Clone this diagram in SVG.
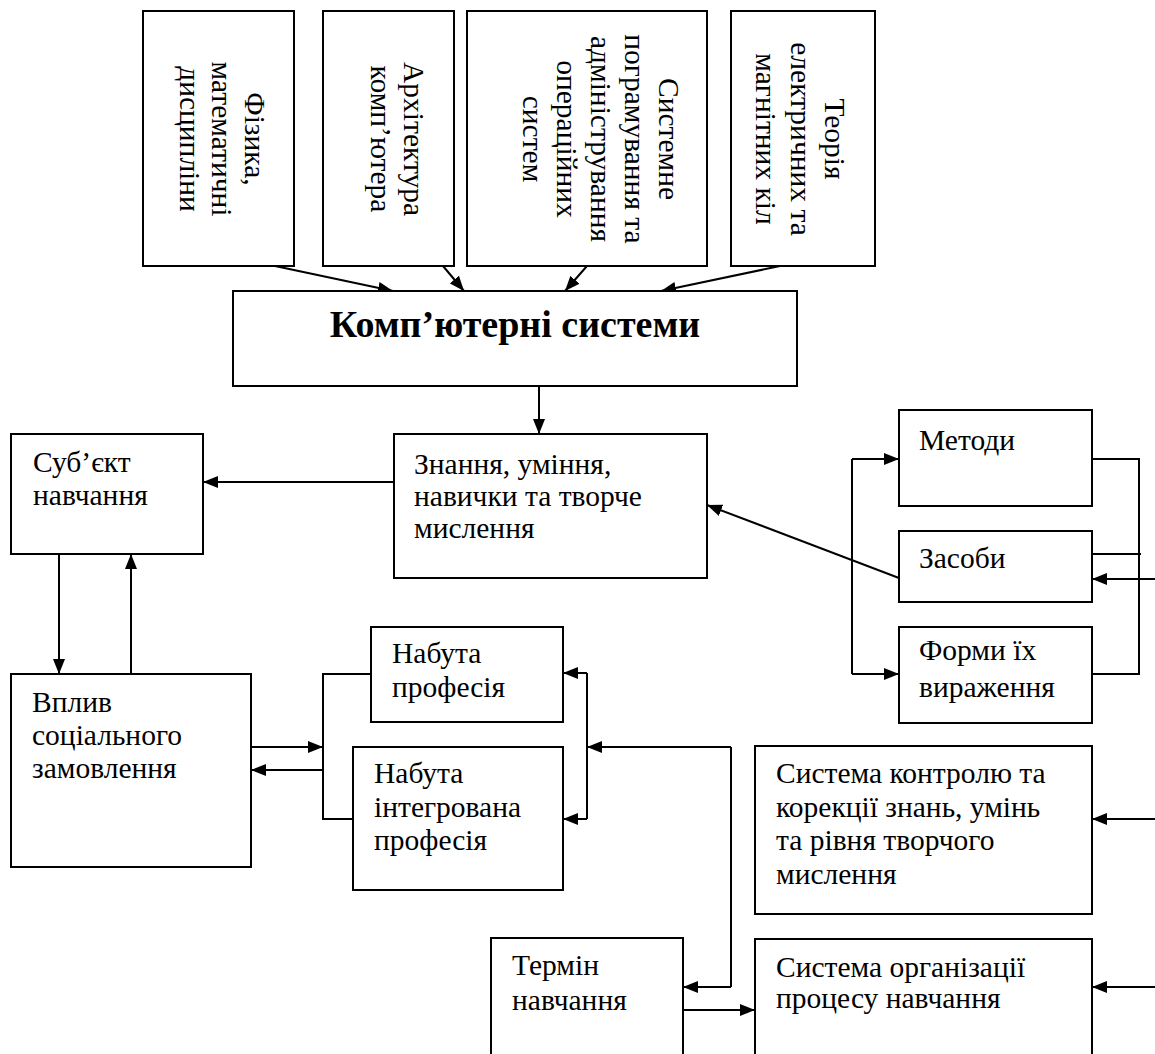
<svg xmlns="http://www.w3.org/2000/svg" width="1155" height="1054" viewBox="0 0 1155 1054">
<style>
.box{fill:#fff;stroke:#000;stroke-width:2}
.t{font-family:"Liberation Serif","Times New Roman",serif;font-size:29.5px;fill:#000}
.v{text-anchor:middle}
.b{font-weight:bold;font-size:38px;text-anchor:middle}
.ln{fill:none;stroke:#000;stroke-width:2}
</style>
<defs>
<marker id="ah" markerUnits="userSpaceOnUse" markerWidth="16" markerHeight="12" refX="15" refY="6" orient="auto">
<path d="M0,0 L15,6 L0,12 z" fill="#000"/>
</marker>
</defs>
<rect width="1155" height="1054" fill="#fff"/>

<g id="connectors">
<line class="ln" x1="275" y1="266" x2="393" y2="291" marker-end="url(#ah)"/>
<line class="ln" x1="443" y1="266" x2="464" y2="291" marker-end="url(#ah)"/>
<line class="ln" x1="587" y1="266" x2="565" y2="291" marker-end="url(#ah)"/>
<line class="ln" x1="780" y1="266" x2="661" y2="291" marker-end="url(#ah)"/>
<line class="ln" x1="539" y1="386" x2="539" y2="434" marker-end="url(#ah)"/>
<line class="ln" x1="394" y1="482" x2="203" y2="482" marker-end="url(#ah)"/>
<line class="ln" x1="59" y1="554" x2="59" y2="674" marker-end="url(#ah)"/>
<line class="ln" x1="131" y1="674" x2="131" y2="554" marker-end="url(#ah)"/>
<line class="ln" x1="251" y1="747" x2="323" y2="747" marker-end="url(#ah)"/>
<line class="ln" x1="323" y1="770" x2="251" y2="770" marker-end="url(#ah)"/>
<polyline class="ln" points="372,674 323,674 323,819 372,819"/>
<line class="ln" x1="587" y1="673" x2="563" y2="673" marker-end="url(#ah)"/>
<line class="ln" x1="587" y1="673" x2="587" y2="819"/>
<line class="ln" x1="587" y1="819" x2="563" y2="819" marker-end="url(#ah)"/>
<line class="ln" x1="731" y1="747" x2="587" y2="747" marker-end="url(#ah)"/>
<line class="ln" x1="731" y1="747" x2="731" y2="987"/>
<line class="ln" x1="731" y1="987" x2="683" y2="987" marker-end="url(#ah)"/>
<line class="ln" x1="683" y1="1010" x2="755" y2="1010" marker-end="url(#ah)"/>
<line class="ln" x1="1155" y1="819" x2="1092" y2="819" marker-end="url(#ah)"/>
<line class="ln" x1="1155" y1="987" x2="1092" y2="987" marker-end="url(#ah)"/>
<line class="ln" x1="899" y1="578" x2="707" y2="505" marker-end="url(#ah)"/>
<line class="ln" x1="852" y1="459" x2="899" y2="459" marker-end="url(#ah)"/>
<line class="ln" x1="852" y1="459" x2="852" y2="674"/>
<line class="ln" x1="852" y1="674" x2="899" y2="674" marker-end="url(#ah)"/>
<polyline class="ln" points="1092,459 1139,459 1139,674 1092,674"/>
<line class="ln" x1="1092" y1="554" x2="1141" y2="554"/>
<line class="ln" x1="1155" y1="579" x2="1092" y2="579" marker-end="url(#ah)"/>
</g>

<g id="n-fizyka">
<rect class="box" x="143" y="11" width="151" height="255"/>
<text class="t v" transform="translate(245,139) rotate(90)">Фізика,</text>
<text class="t v" transform="translate(212,139) rotate(90)">математичні</text>
<text class="t v" transform="translate(180,139) rotate(90)">дисципліни</text>
</g>
<g id="n-arkh">
<rect class="box" x="323" y="11" width="131" height="255"/>
<text class="t v" transform="translate(404,139) rotate(90)">Архітектура</text>
<text class="t v" transform="translate(371,139) rotate(90)">комп’ютера</text>
</g>
<g id="n-syst">
<rect class="box" x="467" y="11" width="240" height="255"/>
<text class="t v" transform="translate(659,139) rotate(90)">Системне</text>
<text class="t v" transform="translate(625,139) rotate(90)">пограмування та</text>
<text class="t v" transform="translate(591,139) rotate(90)">адміністрування</text>
<text class="t v" transform="translate(557,139) rotate(90)">операційних</text>
<text class="t v" transform="translate(523,139) rotate(90)">систем</text>
</g>
<g id="n-teoria">
<rect class="box" x="731" y="11" width="144" height="255"/>
<text class="t v" transform="translate(825,139) rotate(90)">Теорія</text>
<text class="t v" transform="translate(791,139) rotate(90)">електричних та</text>
<text class="t v" transform="translate(756,139) rotate(90)">магнітних кіл</text>
</g>
<g id="n-komp">
<rect class="box" x="233" y="291" width="564" height="95"/>
<text class="t b" x="515" y="337">Комп’ютерні системи</text>
</g>
<g id="n-znannia">
<rect class="box" x="394" y="434" width="313" height="144"/>
<text class="t" x="414" y="474">Знання, уміння,</text>
<text class="t" x="414" y="506">навички та творче</text>
<text class="t" x="414" y="538">мислення</text>
</g>
<g id="n-subiekt">
<rect class="box" x="11" y="434" width="192" height="120"/>
<text class="t" x="33" y="472">Суб’єкт</text>
<text class="t" x="33" y="505">навчання</text>
</g>
<g id="n-vplyv">
<rect class="box" x="11" y="674" width="240" height="193"/>
<text class="t" x="32" y="712">Вплив</text>
<text class="t" x="32" y="745">соціального</text>
<text class="t" x="32" y="778">замовлення</text>
</g>
<g id="n-prof">
<rect class="box" x="371" y="627" width="192" height="95"/>
<text class="t" x="392" y="663">Набута</text>
<text class="t" x="392" y="697">професія</text>
</g>
<g id="n-intprof">
<rect class="box" x="353" y="747" width="210" height="143"/>
<text class="t" x="374" y="783">Набута</text>
<text class="t" x="374" y="817">інтегрована</text>
<text class="t" x="374" y="850">професія</text>
</g>
<g id="n-termin">
<rect class="box" x="491" y="938" width="192" height="130"/>
<text class="t" x="512" y="975">Термін</text>
<text class="t" x="512" y="1010">навчання</text>
</g>
<g id="n-kontrol">
<rect class="box" x="755" y="746" width="337" height="168"/>
<text class="t" x="776" y="783">Система контролю та</text>
<text class="t" x="776" y="817">корекції знань, умінь</text>
<text class="t" x="776" y="850">та рівня творчого</text>
<text class="t" x="776" y="884">мислення</text>
</g>
<g id="n-orh">
<rect class="box" x="755" y="939" width="337" height="130"/>
<text class="t" x="776" y="977">Система організації</text>
<text class="t" x="776" y="1008">процесу навчання</text>
</g>
<g id="n-metody">
<rect class="box" x="899" y="410" width="193" height="96"/>
<text class="t" x="919" y="450">Методи</text>
</g>
<g id="n-zasoby">
<rect class="box" x="899" y="531" width="193" height="71"/>
<text class="t" x="919" y="568">Засоби</text>
</g>
<g id="n-formy">
<rect class="box" x="899" y="627" width="193" height="96"/>
<text class="t" x="919" y="660">Форми їх</text>
<text class="t" x="919" y="697">вираження</text>
</g>
</svg>
